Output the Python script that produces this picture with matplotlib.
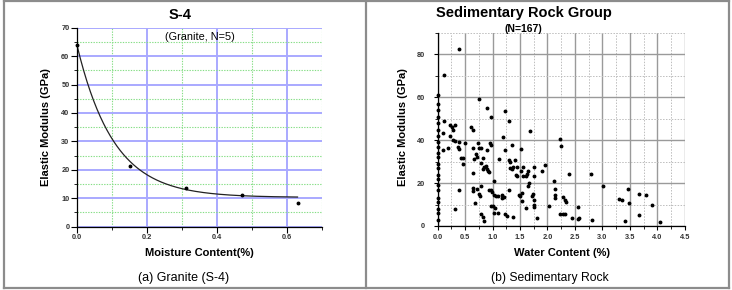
import matplotlib
matplotlib.use("Agg")
import matplotlib.pyplot as plt
import numpy as np
from matplotlib.ticker import MultipleLocator, FormatStrFormatter
from matplotlib.lines import Line2D

plt.rcParams['font.family'] = ['Liberation Sans', 'DejaVu Sans']

# ---------------- data ----------------
# (a) Granite S-4
granite_moisture = [0.0, 0.15, 0.31, 0.47, 0.63]
granite_modulus = [63.8, 21.4, 13.5, 11.2, 8.2]
# exponential-decay fit shown in the chart: y = y0 + A * exp(-x / t)
fit_y0, fit_A, fit_t = 10.3, 53.5, 0.105

# (b) Sedimentary rock group
sed_zero_x = [0.0] * 22
sed_zero_y = [3, 6, 8, 11, 13, 17, 19, 22, 24, 27, 29, 32, 34, 37, 39, 42, 45, 48, 51, 54, 57, 61]
sed_x = [0.38, 0.11, 0.76, 0.89, 0.98, 1.22, 1.29, 0.12, 0.225, 0.32, 0.26, 0.285, 0.09, 0.225, 0.61, 0.65,
         1.19, 1.69, 2.23, 0.285, 0.316, 0.39, 0.50, 0.735, 0.96, 0.97, 1.35,
         0.09, 0.18, 0.377, 0.395, 0.64, 0.75, 0.79, 0.89, 1.23, 1.52, 2.24,
         0.69, 0.72, 0.67, 0.83, 0.425, 0.47, 0.455, 1.11, 1.29, 1.32, 1.41,
         0.79, 0.88, 0.85, 0.82, 0.89, 0.92, 0.94, 0.64, 1.31, 1.35, 1.38, 1.44, 1.55, 1.52, 1.56, 1.60, 1.62,
         1.64, 1.43, 1.45, 1.76, 1.76, 1.90, 1.96, 2.39, 2.79,
         2.11, 1.03, 1.66, 1.64, 0.79, 0.64, 0.71, 0.65, 0.395, 0.94, 0.97, 0.99, 1.29, 1.18, 0.75, 0.77, 1.02,
         1.06, 1.09, 1.17, 1.20, 1.49, 1.50, 1.53, 1.73, 1.72, 1.75, 1.54, 1.76, 1.76, 1.60,
         2.14, 2.13, 2.14, 2.29, 2.32, 2.34, 2.02, 2.56, 3.01, 3.31, 3.35, 3.47, 3.48, 3.66, 3.79, 3.90, 3.66,
         3.41, 4.05, 2.82, 2.58, 2.56, 2.44, 2.23, 2.28, 2.32,
         0.68, 0.32, 0.98, 1.01, 1.05, 1.03, 1.09, 1.23, 1.27, 1.37, 0.79, 0.82, 0.85, 1.81]
sed_y = [82.6, 70.5, 59.2, 54.9, 51.0, 53.5, 49.1, 48.8, 47.3, 47.2, 46.2, 44.6, 43.2, 42.2, 46.0, 44.8,
         41.5, 44.4, 40.7, 40.2, 39.8, 39.0, 38.7, 38.7, 38.6, 37.8, 37.9,
         35.6, 36.6, 36.9, 35.8, 36.2, 36.6, 36.2, 35.4, 35.4, 35.7, 37.2,
         33.5, 32.3, 31.1, 31.8, 31.5, 31.5, 28.9, 31.2, 30.8, 29.7, 30.8,
         29.2, 28.2, 27.4, 26.6, 26.6, 25.7, 25.1, 24.6, 27.2, 26.5, 27.7, 27.4, 27.7, 25.7, 23.1, 23.5, 24.2,
         25.8, 23.8, 23.1, 27.7, 23.4, 25.5, 28.5, 24.3, 24.2,
         21.2, 20.8, 20.0, 18.5, 18.8, 17.7, 17.2, 16.2, 16.6, 16.6, 16.9, 15.7, 16.6, 14.6, 14.9, 13.8, 14.3,
         13.8, 14.2, 13.1, 13.5, 14.6, 13.8, 15.4, 15.1, 13.8, 12.3, 11.5, 9.7, 8.9, 8.2,
         17.2, 14.6, 13.1, 13.5, 12.3, 11.2, 9.5, 8.9, 18.5, 12.8, 12.0, 17.2, 10.6, 15.1, 14.3, 10.0, 5.3,
         2.2, 2.0, 2.8, 3.5, 3.1, 3.5, 5.4, 5.4, 5.4,
         10.8, 7.7, 9.2, 9.2, 8.5, 6.2, 6.2, 5.4, 4.6, 4.2, 5.8, 4.3, 2.3, 3.8]

W, H = 732, 290
fig = plt.figure(figsize=(W / 100, H / 100), dpi=100)


def fx(x):
    return x / W


def fy(y):
    return 1 - y / H


def axes_px(x0, x1, ytop, ybot):
    return fig.add_axes([fx(x0), fy(ybot), (x1 - x0) / W, (ybot - ytop) / H])


# ---------------- frame ----------------
frame_col = '#8c8c8c'
for (xa, xb, ya, yb) in [(3.5, 728.5, 1, 1), (3.5, 728.5, 288, 288), (3.5, 3.5, 1, 288),
                         (728.5, 728.5, 1, 288), (365.5, 365.5, 1, 288)]:
    fig.add_artist(Line2D([fx(xa), fx(xb)], [fy(ya), fy(yb)], color=frame_col, lw=1.6,
                          transform=fig.transFigure))

MS = 3.2

# ---------------- (a) Granite ----------------
ax1 = axes_px(77, 322, 27.7, 226.7)
ax1.set_xlim(0, 0.7)
ax1.set_ylim(0, 70)
ax1.xaxis.set_major_locator(MultipleLocator(0.2))
ax1.xaxis.set_minor_locator(MultipleLocator(0.1))
ax1.yaxis.set_major_locator(MultipleLocator(10))
ax1.yaxis.set_minor_locator(MultipleLocator(5))
ax1.xaxis.set_major_formatter(FormatStrFormatter('%.1f'))
ax1.grid(which='major', color='#a9a9ff', lw=1.4, ls='-')
ax1.grid(which='minor', color='#86de86', lw=0.8, ls=(0, (1.2, 1.2)))
ax1.set_axisbelow(True)
for s in ['top', 'right']:
    ax1.spines[s].set_visible(False)
for s in ['left', 'bottom']:
    ax1.spines[s].set_linewidth(0.9)
ax1.tick_params(which='major', direction='out', length=4, width=0.8, labelsize=5.3, pad=1.5)
ax1.tick_params(which='minor', direction='out', length=2.5, width=0.6)
for lab in ax1.get_xticklabels() + ax1.get_yticklabels():
    lab.set_fontweight('bold')
    lab.set_color('#333333')

xs = np.linspace(0, 0.63, 200)
ax1.plot(xs, fit_y0 + fit_A * np.exp(-xs / fit_t), color='#222222', lw=0.9, clip_on=False)
ax1.scatter(granite_moisture, granite_modulus, s=MS, color='black', zorder=3, clip_on=False)

ax1.text(0.5, 0.955, '(Granite, N=5)', transform=ax1.transAxes, ha='center', va='center', fontsize=7.8)

fig.text(fx(180), fy(15), 'S-4', ha='center', va='center', fontsize=10.5, fontweight='bold')
fig.text(fx(46), fy(127), 'Elastic Modulus (GPa)', rotation=90, ha='center', va='center',
         fontsize=8, fontweight='bold')
fig.text(fx(199.5), fy(253.5), 'Moisture Content(%)', ha='center', va='center', fontsize=8,
         fontweight='bold')
fig.text(fx(184), fy(278), '(a) Granite (S-4)', ha='center', va='center', fontsize=9)

# ---------------- (b) Sedimentary ----------------
ax2 = axes_px(437.7, 684.7, 33, 226)
ax2.set_xlim(0, 4.5)
ax2.set_ylim(0, 90)
ax2.xaxis.set_major_locator(MultipleLocator(0.5))
ax2.xaxis.set_minor_locator(MultipleLocator(0.25))
ax2.yaxis.set_major_locator(MultipleLocator(20))
ax2.yaxis.set_minor_locator(MultipleLocator(10))
ax2.xaxis.set_major_formatter(FormatStrFormatter('%.1f'))
ax2.grid(which='major', color='#9a9a9a', lw=1.0, ls='-')
ax2.grid(which='minor', color='#bdbdbd', lw=0.7, ls=(0, (1.5, 1.5)))
ax2.set_axisbelow(True)
for s in ['top', 'right']:
    ax2.spines[s].set_visible(False)
for s in ['left', 'bottom']:
    ax2.spines[s].set_linewidth(0.9)
ax2.tick_params(which='major', direction='out', length=3, width=0.8, labelsize=5.3, pad=2.5)
ax2.tick_params(axis='y', which='major', pad=6)
ax2.tick_params(which='minor', direction='out', length=2, width=0.6)
for lab in ax2.get_xticklabels() + ax2.get_yticklabels():
    lab.set_fontweight('bold')
    lab.set_color('#333333')

ax2.scatter(sed_zero_x, sed_zero_y, s=MS, color='black', zorder=3, clip_on=False)
ax2.scatter(sed_x, sed_y, s=MS, color='black', zorder=3, clip_on=False)

fig.text(fx(524), fy(13.5), 'Sedimentary Rock Group', ha='center', va='center', fontsize=10.5,
         fontweight='bold')
fig.text(fx(523), fy(29.5), '(N=167)', ha='center', va='center', fontsize=7.5, fontweight='bold')
fig.text(fx(403.5), fy(127), 'Elastic Modulus (GPa)', rotation=90, ha='center', va='center',
         fontsize=8, fontweight='bold')
fig.text(fx(562), fy(253.5), 'Water Content (%)', ha='center', va='center', fontsize=8,
         fontweight='bold')
fig.text(fx(550), fy(278), '(b) Sedimentary Rock', ha='center', va='center', fontsize=8.7)

fig.savefig('out.png', dpi=100)
